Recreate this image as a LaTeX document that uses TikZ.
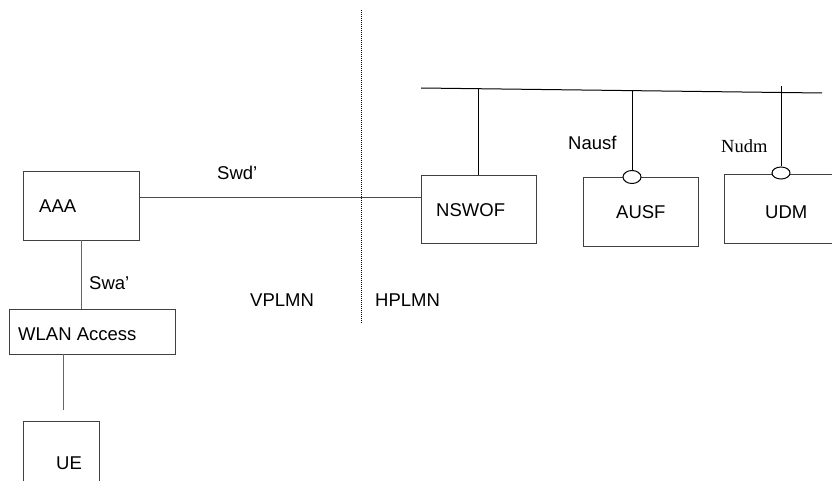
\documentclass[tikz,border=0pt]{standalone}
\usepackage{fontspec}
\setmainfont{Liberation Sans}
\newfontfamily\timesf{Liberation Serif}
\usetikzlibrary{shapes.geometric}
\begin{document}
\begin{tikzpicture}[x=1pt,y=-1pt,
  font=\fontsize{18.5}{22}\selectfont,
  box/.style={draw=black!75,line width=1pt,inner sep=0pt,rectangle},
  conn/.style={draw=black,line width=1pt},
  lbl/.style={inner sep=0pt,anchor=west},
  sock/.style={draw=black,line width=1pt,fill=white,ellipse,inner sep=0pt,minimum width=18pt,minimum height=13pt}]
\useasboundingbox (0,0) rectangle (832,481);
% boxes
\node[box,minimum width=116pt,minimum height=68pt] (aaa) at (81,206) {};
\node[box,minimum width=166pt,minimum height=45pt] (wlan) at (92,331.5) {};
\node[box,minimum width=76pt,minimum height=80pt] (ue) at (61,461) {};
\node[box,minimum width=115pt,minimum height=67pt] (nswof) at (478.5,209.5) {};
\node[box,minimum width=115pt,minimum height=68pt] (ausf) at (640.5,212) {};
\node[box,minimum width=140pt,minimum height=68pt] (udm) at (794,209) {};
% texts in boxes
\node[lbl] (taaa) at (39,206) {AAA};
\node[lbl] (twlan) at (18,334) {WLAN Access};
\node[lbl] (tue) at (56,463) {UE};
\node[lbl] (tnswof) at (436,210) {NSWOF};
\node[lbl] (tausf) at (616,212) {AUSF};
\node[lbl] (tudm) at (765,212) {UDM};
% bus
\coordinate (busL) at (421,88);
\coordinate (busR) at (822,93);
\draw[conn] (busL) -- (busR);
\coordinate (j1) at (478,88.7);
\coordinate (j2) at (632,90.6);
\coordinate (j3) at (781,86);
% sockets
\node[sock] (sausf) at (632,177) {};
\node[sock,minimum height=12pt] (sudm) at (781,173) {};
\draw[conn] (j1) -- (j1 |- nswof.north);
\draw[conn] (j2) -- (sausf.north);
\draw[conn] (j3) -- (sudm.north);
% other connectors
\draw[conn,draw=black!70] (aaa.east |- 0,198) -- (nswof.west |- 0,198);
\draw[conn,draw=black!60] (81,240) -- (81,309);
\coordinate (uefree) at (63,410);
\draw[conn,draw=black!60] (63,354) -- (uefree);
% divider
\coordinate (dtop) at (361,10);
\coordinate (dbot) at (361,323);
\draw[line width=0.8pt,dash pattern=on 1pt off 1pt] (dtop) -- (dbot);
% labels
\node[lbl] (lswd) at (217,173) {Swd’};
\node[lbl] (lswa) at (89,283) {Swa’};
\node[lbl] (lv) at (250,300) {VPLMN};
\node[lbl] (lh) at (375,300) {HPLMN};
\node[lbl] (lnausf) at (568,143) {Nausf};
\node[lbl,font=\timesf\fontsize{18.5}{22}\selectfont] (lnudm) at (721,146) {Nudm};
\end{tikzpicture}
\end{document}
